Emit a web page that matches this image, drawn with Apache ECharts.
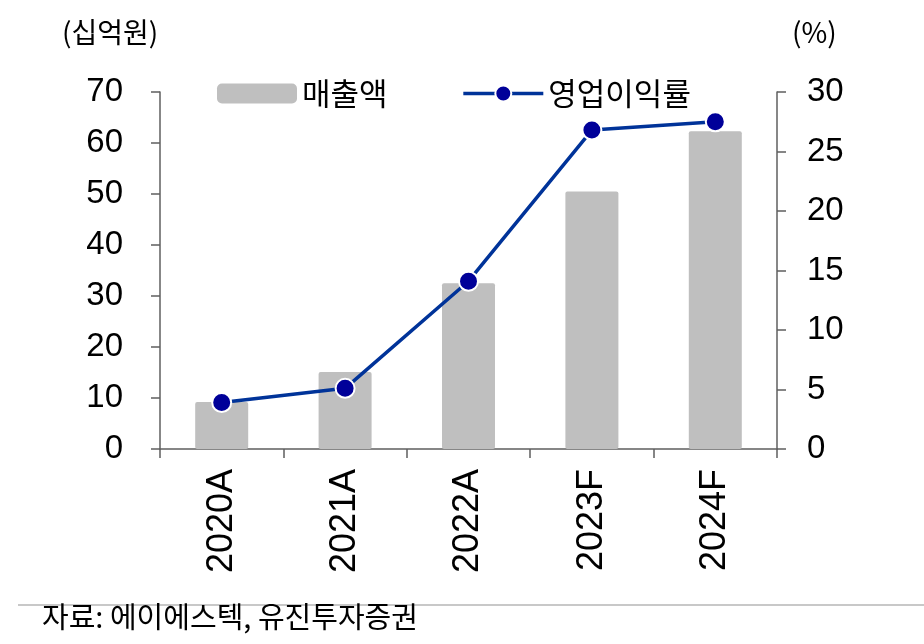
<!DOCTYPE html>
<html>
<head>
<meta charset="utf-8">
<script src="https://cdn.jsdelivr.net/npm/echarts@6/dist/echarts.min.js"></script>
<style>
  html, body { margin: 0; padding: 0; background: #fff; }
  #chart { width: 924px; height: 644px; }
</style>
</head>
<body>
<div id="chart"></div>
<script>
// 연도 (category)
const years = ['2020A', '2021A', '2022A', '2023F', '2024F']
// 매출액 (십억원)
const sales = [9.2, 15.1, 32.5, 50.5, 62.3]
// 영업이익률 (%)
const opMargin = [3.9, 5.1, 14.1, 26.8, 27.5]

const KR = '"Noto Sans CJK KR", "Noto Sans", sans-serif'
const NUM = '"Liberation Sans", Arial, sans-serif'
const axisColor = '#5f5f5f'

const chart = echarts.init(document.getElementById('chart'))

const option = {
  animation: false,
  backgroundColor: '#fff',
  grid: { left: 160, right: 147, top: 92, bottom: 195 },
  legend: {
    left: 212,
    top: 73,
    itemWidth: 80,
    itemHeight: 20,
    itemGap: 74,
    lineStyle: { width: 3.5 },
    textStyle: { fontFamily: KR, fontSize: 31, color: '#000' },
    data: ['매출액', '영업이익률']
  },
  xAxis: {
    type: 'category',
    data: years,
    axisLine: { lineStyle: { color: axisColor, width: 1.5 } },
    axisTick: { show: true, length: 9, alignWithLabel: false, lineStyle: { color: axisColor, width: 1.5 } },
    axisLabel: { rotate: 90, margin: 20, fontFamily: NUM, fontSize: 36, color: '#000' }
  },
  yAxis: [
    {
      type: 'value',
      min: 0, max: 70, interval: 10,
      splitLine: { show: false },
      axisLine: { show: true, lineStyle: { color: axisColor, width: 1.5 } },
      axisTick: { show: true, length: 9, lineStyle: { color: axisColor, width: 1.5 } },
      axisLabel: { margin: 37, fontFamily: NUM, fontSize: 33, color: '#000' }
    },
    {
      type: 'value',
      min: 0, max: 30, interval: 5,
      splitLine: { show: false },
      axisLine: { show: true, lineStyle: { color: axisColor, width: 1.5 } },
      axisTick: { show: true, length: 9, lineStyle: { color: axisColor, width: 1.5 } },
      axisLabel: { margin: 30, fontFamily: NUM, fontSize: 33, color: '#000' }
    }
  ],
  series: [
    {
      name: '매출액',
      type: 'bar',
      yAxisIndex: 0,
      data: sales,
      barWidth: 53,
      itemStyle: { color: '#bfbfbf', borderRadius: 2 }
    },
    {
      name: '영업이익률',
      type: 'line',
      yAxisIndex: 1,
      data: opMargin,
      symbol: 'circle',
      symbolSize: 19,
      lineStyle: { color: '#003399', width: 3.5 },
      itemStyle: { color: '#000099', borderColor: '#fff', borderWidth: 2 },
      z: 5
    }
  ],
  graphic: [
    {
      type: 'text', left: 62, top: 18,
      style: { text: '(십억원)', font: '28px ' + KR, fill: '#000' }
    },
    {
      type: 'text', left: 792, top: 18,
      style: { text: '(%)', font: '28px ' + KR, fill: '#000' }
    },
    {
      type: 'line',
      shape: { x1: 18, y1: 605, x2: 924, y2: 605 },
      style: { stroke: '#c8c8c8', lineWidth: 2 }
    },
    {
      type: 'text', left: 42, top: 602,
      style: { text: '자료: 에이에스텍, 유진투자증권', font: '29px ' + KR, fill: '#000' }
    }
  ]
}

chart.setOption(option)
</script>
</body>
</html>
